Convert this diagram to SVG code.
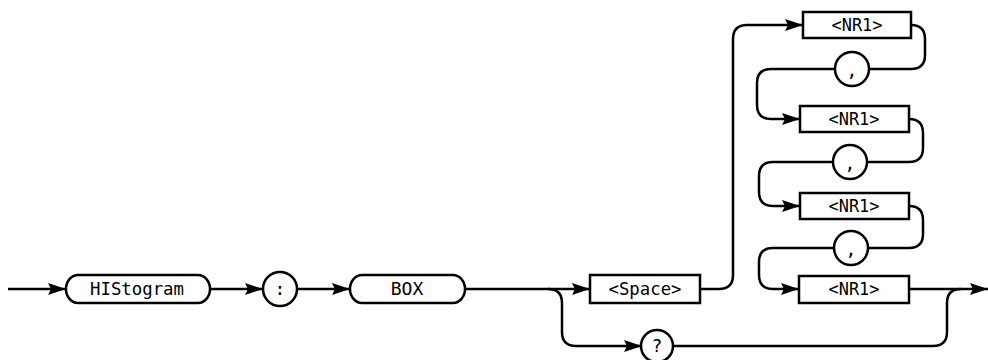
<svg xmlns="http://www.w3.org/2000/svg" width="988" height="360" viewBox="0 0 988 360">
<style>
.l{fill:none;stroke:#000;stroke-width:2.5;stroke-linejoin:round}
.a{marker-end:url(#ah)}
.b{fill:#fff;stroke:#000;stroke-width:2.5}
.t{font-family:"DejaVu Sans Mono","Liberation Mono",monospace;font-size:18px;fill:#000;text-anchor:middle}
</style>
<defs>
<marker id="ah" markerUnits="userSpaceOnUse" markerWidth="20" markerHeight="14" refX="18" refY="7" orient="auto">
<path d="M0,1 L18,7 L0,13 L3,7 z" fill="#000"/>
</marker>
</defs>
<g id="connectors">
<path class="l a" d="M8,289 H66"/>
<path class="l a" d="M210,289 H263"/>
<path class="l a" d="M297,289 H350"/>
<path class="l a" d="M465,289 H590"/>
<path class="l a" d="M548,289 Q562,289 562,303 V332 Q562,346 576,346 H642"/>
<path class="l" d="M673,346 H933 Q947,346 947,332 V303 Q947,289 961,289"/>
<path class="l a" d="M909,289 H988"/>
<path class="l a" d="M700,289 H719 Q733,289 733,275 V39 Q733,25 747,25 H803"/>
<path class="l" d="M911,25 Q925,25 925,39 V55 Q925,69 911,69 H869"/>
<path class="l a" d="M835,69 H771 Q757,69 757,83 V105 Q757,119 771,119 H800"/>
<path class="l" d="M909,119 Q923,119 923,133 V148 Q923,162 909,162 H867"/>
<path class="l a" d="M833,162 H773 Q759,162 759,176 V192 Q759,206 773,206 H800"/>
<path class="l" d="M909,206 Q923,206 923,220 V234 Q923,248 909,248 H868"/>
<path class="l a" d="M834,248 H773 Q759,248 759,262 V275 Q759,289 773,289 H799"/>
</g>
<g id="histogram"><rect class="b" x="66" y="275" width="144" height="28" rx="12" ry="14"/><text class="t" x="137" y="295" textLength="94" lengthAdjust="spacingAndGlyphs">HIStogram</text></g>
<g id="colon"><circle class="b" cx="280" cy="289" r="17"/><text class="t" x="280" y="295">:</text></g>
<g id="box"><rect class="b" x="350" y="275" width="115" height="28" rx="12" ry="14"/><text class="t" x="407" y="295">BOX</text></g>
<g id="space"><rect class="b" x="590" y="275" width="110" height="28"/><text class="t" x="645" y="295" textLength="73" lengthAdjust="spacingAndGlyphs">&lt;Space&gt;</text></g>
<g id="query"><circle class="b" cx="657" cy="346" r="16"/><text class="t" x="657" y="352">?</text></g>
<g id="nr1a"><rect class="b" x="803" y="12" width="108" height="26"/><text class="t" x="857" y="31" textLength="51" lengthAdjust="spacingAndGlyphs">&lt;NR1&gt;</text></g>
<g id="comma1"><circle class="b" cx="852" cy="69" r="17"/><text class="t" x="852" y="77">,</text></g>
<g id="nr1b"><rect class="b" x="800" y="106" width="109" height="26"/><text class="t" x="854" y="125" textLength="51" lengthAdjust="spacingAndGlyphs">&lt;NR1&gt;</text></g>
<g id="comma2"><circle class="b" cx="850" cy="162" r="17"/><text class="t" x="850" y="170">,</text></g>
<g id="nr1c"><rect class="b" x="800" y="193" width="109" height="26"/><text class="t" x="854" y="212" textLength="51" lengthAdjust="spacingAndGlyphs">&lt;NR1&gt;</text></g>
<g id="comma3"><circle class="b" cx="851" cy="248" r="17"/><text class="t" x="851" y="256">,</text></g>
<g id="nr1d"><rect class="b" x="799" y="276" width="110" height="27"/><text class="t" x="854" y="295" textLength="51" lengthAdjust="spacingAndGlyphs">&lt;NR1&gt;</text></g>
</svg>
